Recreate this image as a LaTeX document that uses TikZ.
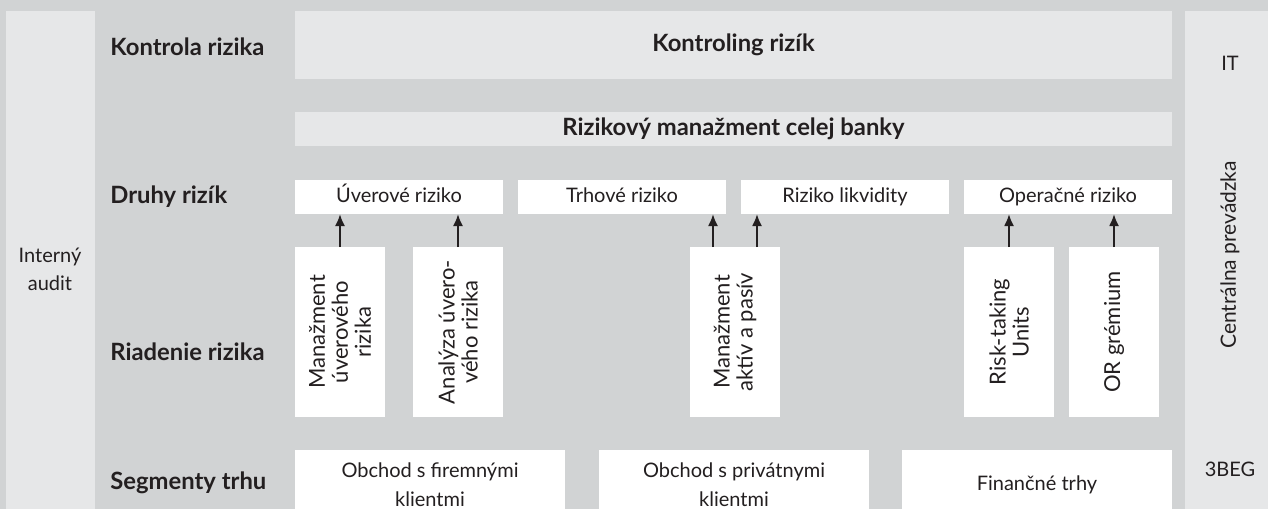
\documentclass[tikz,border=0pt]{standalone}
\usepackage{fontspec}
\setmainfont{Lato}
\usepackage{tikz}
\usetikzlibrary{arrows.meta,
                positioning}
\definecolor{bggray}{HTML}{D1D3D4}
\definecolor{panelgray}{HTML}{E6E7E8}
\definecolor{inkblack}{HTML}{231F20}
\tikzset{panel/.style =
   {rectangle,
    fill=panelgray,
    inner sep=0pt,
    outer sep=0pt,
    anchor=north west,
    text height=8.6pt,
    text depth=2.6pt,
    font=\fontsize{11.9}{14}\selectfont\bfseries}}
\tikzset{riskbox/.style =
   {rectangle,
    fill=white,
    inner sep=0pt,
    outer sep=0pt,
    anchor=north west,
    text height=7.3pt,
    text depth=2.2pt,
    minimum width=104pt,
    minimum height=17pt}}
\tikzset{unitbox/.style =
   {rectangle,
    fill=white,
    rotate=90,
    align=center,
    inner sep=0pt,
    outer sep=0pt,
    minimum width=85pt,
    minimum height=45pt,
    font=\fontsize{11}{11.5}\selectfont}}
\tikzset{segmentbox/.style =
   {rectangle,
    fill=white,
    align=center,
    inner sep=0pt,
    outer sep=0pt,
    anchor=north west,
    minimum width=135pt,
    minimum height=35pt,
    font=\fontsize{10}{14.5}\selectfont}}
\tikzset{rowlabel/.style = {anchor=west, inner sep=0pt, font=\fontsize{11.9}{14}\selectfont\bfseries}}
\tikzset{arrow/.style = {draw, line width=1pt, -{Latex[length=6pt,width=5pt]}}}

\begin{document}
\begin{tikzpicture}[x=0.5pt, y=-0.5pt, color=inkblack]

    \clip (0,0) rectangle (1268,509);
    \fill [bggray] (0,0) rectangle (1268,509);

    % side panels
    \fill [panelgray] (6,11) rectangle (95,509);
    \node [align=center,
           font=\fontsize{10}{14}\selectfont] (audit) at (50,269) {Interný\\audit};
    \fill [panelgray] (1185,11) rectangle (1268,509);
    \node (it) at (1230,63) {IT};
    \node [rotate=90,
           font=\fontsize{10.5}{12}\selectfont] (prevadzka) at (1230,255) {Centrálna prevádzka};
    \node (beg) at (1230,469) {3BEG};

    % row labels
    \node [rowlabel] (lkontrola) at (110,47) {Kontrola rizika};
    \node [rowlabel] (ldruhy) at (110,197) {Druhy rizík};
    \node [rowlabel] (lriadenie) at (110,352) {Riadenie rizika};
    \node [rowlabel] (lsegmenty) at (110,483) {Segmenty trhu};

    % control
    \node [panel,
           minimum width=438.5pt,
           minimum height=34pt] (kontroling) at (295,11) {Kontroling rizík};

    \node [panel,
           minimum width=438.5pt,
           minimum height=17pt] (celabanka) at (295,112) {Rizikový manažment celej banky};

    % risk types
    \node [riskbox] (uver) at (295,180) {Úverové riziko};
    \node [riskbox] (trh) at (518,180) {Trhové riziko};
    \node [riskbox] (likv) at (741,180) {Riziko likvidity};
    \node [riskbox] (oper) at (964,180) {Operačné riziko};

    % risk management units
    \node [unitbox] (mur) at (340,332) {Manažment\\úverového\\rizika};
    \node [unitbox] (aur) at (458,332) {Analýza úvero-\\vého rizika};
    \node [unitbox] (maa) at (735,332) {Manažment\\aktív a pasív};
    \node [unitbox] (rtu) at (1009,332) {Risk-taking\\Units};
    \node [unitbox] (org) at (1114,332) {OR grémium};

    \draw [arrow] (mur.east) -- (mur.east |- uver.south);
    \draw [arrow] (aur.east) -- (aur.east |- uver.south);
    \draw [arrow] ([xshift=-11pt]maa.east) -- ([xshift=-11pt]maa.east |- trh.south);
    \draw [arrow] ([xshift=11pt]maa.east) -- ([xshift=11pt]maa.east |- likv.south);
    \draw [arrow] (rtu.east) -- (rtu.east |- oper.south);
    \draw [arrow] (org.east) -- (org.east |- oper.south);

    % market segments
    \node [segmentbox] (firmy) at (295,450) {Obchod s firemnými\\klientmi};
    \node [segmentbox] (privat) at (599,450) {Obchod s privátnymi\\klientmi};
    \node [segmentbox] (fintrhy) at (902,450) {Finančné trhy};

\end{tikzpicture}
\end{document}
